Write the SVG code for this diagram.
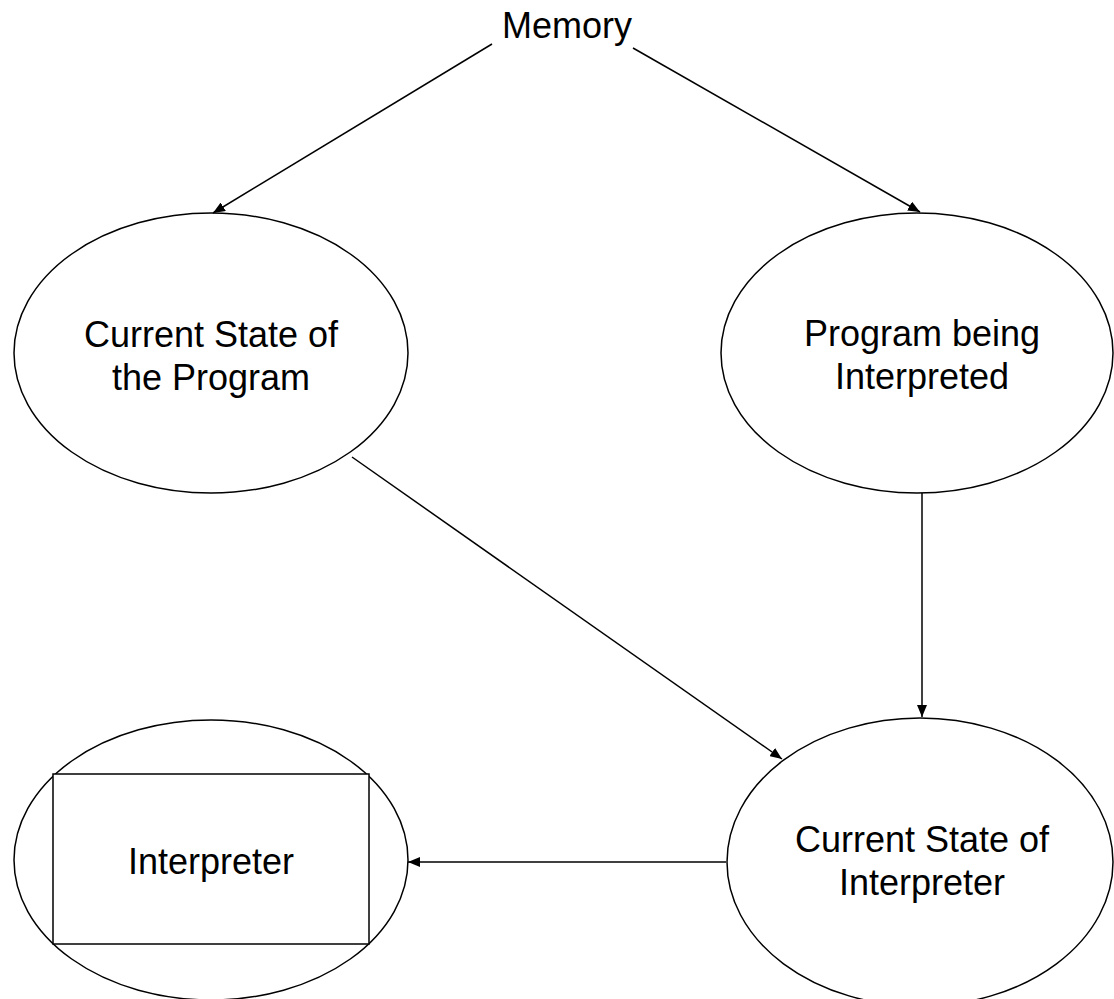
<svg xmlns="http://www.w3.org/2000/svg" width="1114" height="999" viewBox="0 0 1114 999">
<style>
.shape{fill:#fff;stroke:#000;stroke-width:1.5}
.lbl{font-family:"Liberation Sans",Arial,sans-serif;font-size:36px;fill:#000;text-anchor:middle}
.conn{fill:none;stroke:#000;stroke-width:1.5}
</style>
<defs>
<marker id="ah" markerUnits="userSpaceOnUse" markerWidth="12" markerHeight="10" refX="12" refY="5" orient="auto">
<path d="M0,0 L12,5 L0,10 z" fill="#000"/>
</marker>
</defs>
<rect width="1114" height="999" fill="#fff"/>
<g id="memory">
<text class="lbl" x="567" y="38">Memory</text>
</g>
<g id="state-program">
<ellipse class="shape" cx="211" cy="353" rx="197" ry="140"/>
<text class="lbl" x="211" y="347">Current State of</text>
<text class="lbl" x="211" y="390">the Program</text>
</g>
<g id="program-interpreted">
<ellipse class="shape" cx="917" cy="353" rx="196" ry="140"/>
<text class="lbl" x="922" y="346">Program being</text>
<text class="lbl" x="922" y="389">Interpreted</text>
</g>
<g id="state-interpreter">
<ellipse class="shape" cx="920" cy="862" rx="193" ry="144"/>
<text class="lbl" x="922" y="852">Current State of</text>
<text class="lbl" x="922" y="895">Interpreter</text>
</g>
<g id="interpreter">
<ellipse class="shape" cx="211" cy="860" rx="197" ry="140"/>
<rect class="shape" x="53" y="774" width="316" height="170"/>
<text class="lbl" x="211" y="874">Interpreter</text>
</g>
<g id="connectors">
<line class="conn" x1="492" y1="44" x2="213" y2="213" marker-end="url(#ah)"/>
<line class="conn" x1="633" y1="48" x2="920" y2="212" marker-end="url(#ah)"/>
<line class="conn" x1="352" y1="457" x2="782" y2="759" marker-end="url(#ah)"/>
<line class="conn" x1="922" y1="493" x2="922" y2="717" marker-end="url(#ah)"/>
<line class="conn" x1="726" y1="862" x2="408" y2="862" marker-end="url(#ah)"/>
</g>
</svg>
